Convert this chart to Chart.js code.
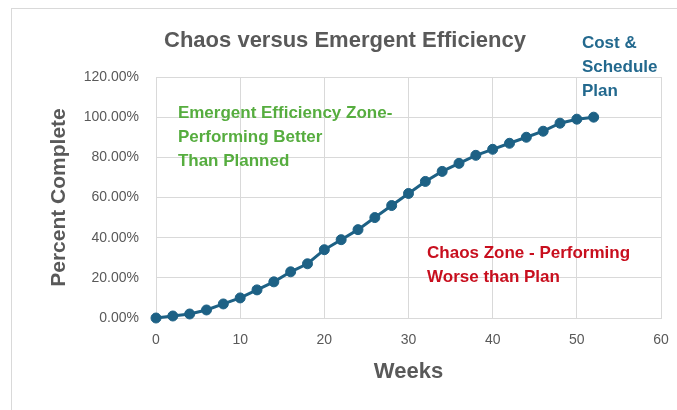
<!DOCTYPE html>
<html>
<head>
<meta charset="utf-8">
<script src="https://cdn.jsdelivr.net/npm/chart.js@4/dist/chart.umd.min.js"></script>
<style>
  html, body { margin: 0; padding: 0; background: #fff; }
  #wrap { width: 677px; height: 410px; position: relative; }
</style>
</head>
<body>
<div id="wrap"><canvas id="chaosChart"></canvas></div>
<script>
// data
const weeks = [0, 2, 4, 6, 8, 10, 12, 14, 16, 18, 20, 22, 24, 26, 28, 30, 32, 34, 36, 38, 40, 42, 44, 46, 48, 50, 52];
const percentComplete = [0, 1, 2, 4, 7, 10, 14, 18, 23, 27, 34, 39, 44, 50, 56, 62, 68, 73, 77, 81, 84, 87, 90, 93, 97, 99, 100];
const xTicks = [0, 10, 20, 30, 40, 50, 60];
const yTicks = [0, 20, 40, 60, 80, 100, 120];

const chartTitle = "Chaos versus Emergent Efficiency";
const notes = [
  { lines: ["Emergent Efficiency Zone-", "Performing Better", "Than Planned"], x: 2.6, y: 102, color: "#56ad3f" },
  { lines: ["Chaos Zone - Performing", "Worse than Plan"], x: 32.2, y: 32, color: "#c80f1e" },
  { lines: ["Cost &", "Schedule", "Plan"], x: 50.6, y: 137, color: "#23698e" },
];

const gridColor = "#d9d9d9";
const textGray = "#595959";

const decorations = {
  id: "decorations",
  beforeDraw(chart) {
    const ctx = chart.ctx;
    ctx.save();
    ctx.strokeStyle = gridColor;
    ctx.lineWidth = 1;
    ctx.strokeRect(11.5, 8.5, 700, 420);
    ctx.restore();
  },
  afterDraw(chart) {
    const ctx = chart.ctx;
    const xs = chart.scales.x;
    const ys = chart.scales.y;
    ctx.save();
    ctx.font = "bold 22px 'Liberation Sans', Arial, sans-serif";
    ctx.fillStyle = textGray;
    ctx.textAlign = "center";
    ctx.textBaseline = "middle";
    ctx.fillText(chartTitle, 345, 41);

    ctx.font = "bold 17px 'Liberation Sans', Arial, sans-serif";
    ctx.textAlign = "left";
    notes.forEach((note) => {
      ctx.fillStyle = note.color;
      const px = xs.getPixelForValue(note.x);
      const py = ys.getPixelForValue(note.y);
      note.lines.forEach((line, i) => {
        ctx.fillText(line, px, py + i * 24);
      });
    });
    ctx.restore();
  },
};

document.addEventListener("DOMContentLoaded", () => {
  const ctx = document.getElementById("chaosChart").getContext("2d");
  new Chart(ctx, {
    type: "line",
    data: {
      datasets: [
        {
          label: "Cost & Schedule Plan",
          data: weeks.map((w, i) => ({ x: w, y: percentComplete[i] })),
          borderColor: "#1d6185",
          backgroundColor: "#1d6185",
          borderWidth: 3,
          pointRadius: 5,
          pointBorderWidth: 1,
          pointHoverRadius: 5,
          tension: 0,
          clip: false,
        },
      ],
    },
    options: {
      responsive: true,
      maintainAspectRatio: false,
      animation: false,
      layout: { padding: { left: 0, right: 16, top: 77, bottom: 0 } },
      plugins: {
        legend: { display: false },
        tooltip: { enabled: false },
      },
      scales: {
        x: {
          type: "linear",
          min: 0,
          max: 60,
          afterBuildTicks: (scale) => {
            scale.ticks = xTicks.map((v) => ({ value: v }));
          },
          afterFit: (scale) => {
            scale.height = 92;
            scale.paddingLeft = 0;
            scale.paddingRight = 0;
          },
          grid: { color: gridColor, drawTicks: false },
          border: { color: gridColor },
          ticks: {
            padding: 14,
            color: textGray,
            font: { family: "'Liberation Sans', Arial, sans-serif", size: 14 },
          },
          title: {
            display: true,
            text: "Weeks",
            color: textGray,
            font: { family: "'Liberation Sans', Arial, sans-serif", size: 22, weight: "bold" },
            padding: { top: 0, bottom: 25 },
          },
        },
        y: {
          min: 0,
          max: 120,
          afterBuildTicks: (scale) => {
            scale.ticks = yTicks.map((v) => ({ value: v }));
          },
          afterFit: (scale) => {
            scale.width = 156;
            scale.paddingTop = 0;
            scale.paddingBottom = 0;
          },
          grid: { color: gridColor, drawTicks: false },
          border: { color: gridColor },
          ticks: {
            padding: 17,
            color: textGray,
            font: { family: "'Liberation Sans', Arial, sans-serif", size: 14 },
            callback: (v) => v.toFixed(2) + "%",
          },
          title: {
            display: true,
            text: "Percent Complete",
            color: textGray,
            font: { family: "'Liberation Sans', Arial, sans-serif", size: 21, weight: "bold" },
            padding: { top: 47, bottom: 0 },
          },
        },
      },
    },
    plugins: [decorations],
  });
});
</script>
</body>
</html>
